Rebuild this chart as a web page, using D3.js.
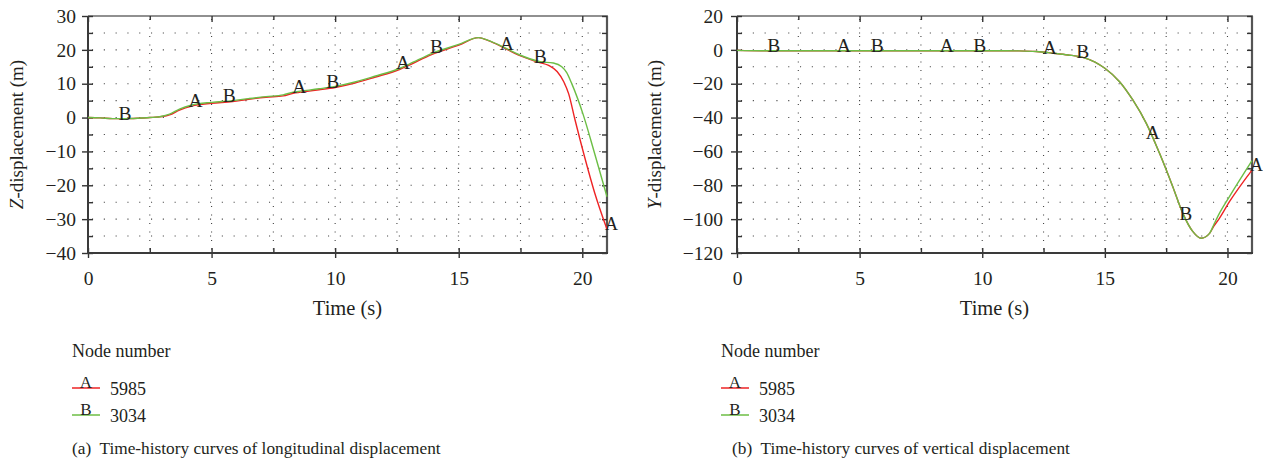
<!DOCTYPE html>
<html><head><meta charset="utf-8">
<script src="https://cdn.jsdelivr.net/npm/d3@7"></script>
<style>
body{margin:0;background:#fff}
svg{display:block}
text{font-family:"Liberation Serif","Times New Roman",serif;fill:#231f20}
</style>
</head><body>
<svg id="chart" width="1263" height="464"></svg>
<script>
// ---------- data ----------
// (a) longitudinal (Z) displacement
const zTimeA = [0,0.5,1,1.5,2,2.5,3,3.3,3.7,4.2,5,5.85,6.5,7.2,7.9,8.3,8.6,9.35,10,10.8,11.6,12.6,13,13.9,15,15.8,16.2,16.75,17.4,18.2,18.64,18.98,19.25,19.45,19.7,20.1,20.5,21];
const zNode5985 = [0,-0.1,-0.3,-0.3,-0.2,0,0.3,0.8,2.2,3.4,4.2,4.7,5.4,6.0,6.4,7.2,7.5,8.2,8.9,10.2,11.9,14.2,15.5,18.6,21.4,23.6,22.7,20.9,18.5,16.4,15.4,13.6,10.6,7.0,-0.5,-11.8,-22.2,-33];
const zTimeB = [0,0.5,1,1.5,2,2.5,3,3.3,3.7,4.2,5,5.85,6.5,7.2,7.9,8.3,8.6,9.35,10,10.8,11.6,12.6,13,13.9,15,15.8,16.2,16.75,17.4,18.29,18.83,19.17,19.37,19.57,20.04,20.5,21];
const zNode3034 = [0,-0.1,-0.3,-0.3,-0.2,0,0.4,1.0,2.5,3.7,4.5,5.0,5.6,6.2,6.7,7.5,7.8,8.5,9.2,10.5,12.2,14.5,15.8,18.9,21.6,23.6,22.8,21.0,18.7,16.5,16.1,15.0,13.3,10.1,0.8,-10.6,-23.4];

// (b) vertical (Y) displacement
const yTimeA = [0,1,2,3,4,5,6,7,8,9,10,11,11.5,12.2,12.9,13.5,14.1,14.6,15,15.6,16.14,16.69,17.23,17.77,18.18,18.59,18.93,19.27,19.45,19.67,20.08,21];
const yNode5985 = [-0.3,-0.5,-0.5,-0.5,-0.5,-0.5,-0.5,-0.5,-0.5,-0.5,-0.5,-0.5,-0.6,-1.0,-2.0,-3.0,-4.4,-7.2,-10.9,-18.8,-29.6,-43.4,-61.1,-80.8,-96.6,-107.4,-111.3,-108.4,-104,-99.5,-89.7,-71];
const yTimeB = [0,1,2,3,4,5,6,7,8,9,10,11,11.5,12.2,12.9,13.5,14.1,14.6,15,15.6,16.14,16.69,17.23,17.77,18.18,18.59,18.93,19.27,19.45,19.67,20.08,21];
const yNode3034 = [-0.3,-0.5,-0.5,-0.5,-0.5,-0.5,-0.5,-0.5,-0.5,-0.5,-0.5,-0.5,-0.6,-1.0,-2.0,-3.0,-4.4,-7.2,-10.9,-18.8,-29.6,-43.4,-61.1,-80.8,-96.6,-107.4,-111.3,-108.4,-103,-96.6,-86.7,-65.5];

// curve letter markers (times)
const markerTimesA = [4.35, 8.55, 12.75, 16.95];
const markerTimesB = [1.5, 5.72, 9.9, 14.1, 18.3];

// ticks
const xMajorTicks = [0,5,10,15,20];
const xMinorTicks = [2.5,7.5,12.5,17.5];
const zMajorTicks = [30,20,10,0,-10,-20,-30,-40];
const zMinorTicks = [25,15,5,-5,-15,-25,-35];
const yMajorTicks = [20,0,-20,-40,-60,-80,-100,-120];
const yMinorTicks = [10,-10,-30,-50,-70,-90,-110];

const legendTitle = "Node number";
const seriesNames = ["5985","3034"];
const seriesLetters = ["A","B"];
const seriesColors = ["#ee2324","#6cbe45"];

// ---------- drawing ----------
const svg = d3.select("#chart");
const FS = 19.5;

function interp(ts, vs, t){
  for(let i=1;i<ts.length;i++){
    if(t<=ts[i]){const f=(t-ts[i-1])/(ts[i]-ts[i-1]);return vs[i-1]+f*(vs[i]-vs[i-1]);}
  }
  return vs[vs.length-1];
}

function panel(o){
  const top=16, h=237;
  const g = svg.append("g");
  const x = d3.scaleLinear().domain([0,21]).range([o.x0, o.x0+o.w]);
  const y = d3.scaleLinear().domain(o.yDomain).range([top+h, top]);
  const L=o.x0, R=o.x0+o.w, T=top, B=top+h;

  // grid
  const allY = o.yMajor.concat(o.yMinor).filter(v=>v!==o.yDomain[0]&&v!==o.yDomain[1]);
  g.append("g").selectAll("line").data(allY).join("line")
    .attr("x1",L+4).attr("x2",R).attr("y1",d=>y(d)).attr("y2",d=>y(d))
    .attr("stroke","#444").attr("stroke-width",1.1).attr("stroke-dasharray","1.1,10.7");
  const allX = xMajorTicks.concat(xMinorTicks).filter(v=>v>0);
  g.append("g").selectAll("line").data(allX).join("line")
    .attr("x1",d=>x(d)).attr("x2",d=>x(d)).attr("y1",T+3).attr("y2",B)
    .attr("stroke","#444").attr("stroke-width",1.1).attr("stroke-dasharray","1.1,7.4");

  // frame
  g.append("line").attr("x1",L).attr("x2",R+1).attr("y1",T).attr("y2",T).attr("stroke","#222").attr("stroke-width",1.2);
  g.append("line").attr("x1",R).attr("x2",R).attr("y1",T).attr("y2",B).attr("stroke","#555").attr("stroke-width",2.2);

  // ticks via axes
  const tickStyle = sel => { sel.select(".domain").remove(); sel.selectAll("line").attr("stroke","#333").attr("stroke-width",1.4); sel.selectAll("text").remove(); };
  g.append("g").attr("transform",`translate(${L},0)`).call(d3.axisLeft(y).tickValues(o.yMajor).tickSize(6)).call(tickStyle);
  g.append("g").attr("transform",`translate(${L},0)`).call(d3.axisLeft(y).tickValues(o.yMajor.concat(o.yMinor)).tickSize(-5)).call(tickStyle);
  g.append("g").attr("transform",`translate(${R},0)`).call(d3.axisRight(y).tickValues(o.yMajor.concat(o.yMinor)).tickSize(-5)).call(tickStyle);
  g.append("g").attr("transform",`translate(0,${B})`).call(d3.axisBottom(x).tickValues(xMajorTicks).tickSize(5)).call(tickStyle);
  g.append("g").attr("transform",`translate(0,${B})`).call(d3.axisBottom(x).tickValues(xMajorTicks).tickSize(-5)).call(tickStyle);
  g.append("g").attr("transform",`translate(0,${B})`).call(d3.axisBottom(x).tickValues(xMinorTicks).tickSize(-5)).call(tickStyle);
  g.append("g").attr("transform",`translate(0,${T})`).call(d3.axisTop(x).tickValues(xMajorTicks).tickSize(-6)).call(tickStyle);
  g.append("g").attr("transform",`translate(0,${T})`).call(d3.axisTop(x).tickValues(xMinorTicks).tickSize(-4)).call(tickStyle);

  // left & bottom axis lines
  g.append("line").attr("x1",L).attr("x2",L).attr("y1",T).attr("y2",B+1).attr("stroke","#3a3a3a").attr("stroke-width",2);
  g.append("line").attr("x1",L-1).attr("x2",R+1).attr("y1",B).attr("y2",B).attr("stroke","#3a3a3a").attr("stroke-width",2);

  // tick labels via axes
  const lblStyle = sel => { sel.select(".domain").remove(); sel.selectAll("line").remove();
    sel.selectAll("text").attr("font-family",'"Liberation Serif",serif').attr("font-size",FS).attr("fill","#231f20"); };
  g.append("g").attr("transform",`translate(${L},0)`)
    .call(d3.axisLeft(y).tickValues(o.yMajor).tickSize(0).tickPadding(o.yPad).tickFormat(d=>d<0?"\u2212"+Math.abs(d):d))
    .call(lblStyle);
  g.append("g").attr("transform",`translate(0,${B})`)
    .call(d3.axisBottom(x).tickValues(xMajorTicks).tickSize(0).tickPadding(18).tickFormat(d3.format("d")))
    .call(lblStyle);

  // axis titles
  g.append("text").attr("x",(L+R)/2).attr("y",315).attr("text-anchor","middle").attr("font-size",20.5).text("Time (s)");
  const yl = g.append("text").attr("transform",`translate(${o.ylx},${(T+B)/2}) rotate(-90)`).attr("text-anchor","middle").attr("font-size",19);
  yl.append("tspan").attr("font-style","italic").text(o.yLetter);
  yl.append("tspan").text("-displacement (m)");

  // curves
  const line = d3.line().x(d=>x(d[0])).y(d=>y(d[1])).curve(d3.curveMonotoneX);
  o.series.forEach((s,i)=>{
    g.append("path").datum(d3.zip(s.t,s.v)).attr("d",line).attr("fill","none")
      .attr("stroke",seriesColors[i]).attr("stroke-width",1.4);
  });

  // letters on curves
  const mk = [];
  markerTimesA.forEach(t=>mk.push({t,s:0}));
  markerTimesB.forEach(t=>mk.push({t,s:1}));
  g.append("g").selectAll("text").data(mk).join("text")
    .attr("x",d=>x(d.t)).attr("y",d=>y(interp(o.series[d.s].t,o.series[d.s].v,d.t))+1)
    .attr("text-anchor","middle").attr("font-size",FS).text(d=>seriesLetters[d.s]);
  const sA=o.series[0];
  g.append("text").attr("x",x(sA.t[sA.t.length-1])-2).attr("y",y(sA.v[sA.v.length-1])+1)
    .attr("font-size",18).text(seriesLetters[0]);

  // legend
  const lx=o.legendX;
  g.append("text").attr("x",lx).attr("y",357).attr("font-size",18).text(legendTitle);
  [388,415].forEach((ly,i)=>{
    g.append("line").attr("x1",lx).attr("x2",lx+28).attr("y1",ly).attr("y2",ly).attr("stroke",seriesColors[i]).attr("stroke-width",1.5);
    g.append("text").attr("x",lx+14).attr("y",ly).attr("text-anchor","middle").attr("font-size",17).text(seriesLetters[i]);
    g.append("text").attr("x",lx+38).attr("y",ly+7).attr("font-size",18).text(seriesNames[i]);
  });
  g.append("text").attr("x",o.captionX).attr("y",454).attr("font-size",17.3).attr("xml:space","preserve").text(o.caption);
}

panel({x0:88,w:519,yDomain:[-40,30],yMajor:zMajorTicks,yMinor:zMinorTicks,yPad:12,ylx:23,yLetter:"Z",
  series:[{t:zTimeA,v:zNode5985},{t:zTimeB,v:zNode3034}],
  legendX:72,captionX:72,caption:"(a)  Time-history curves of longitudinal displacement"});
panel({x0:737,w:515,yDomain:[-120,20],yMajor:yMajorTicks,yMinor:yMinorTicks,yPad:14,ylx:661,yLetter:"Y",
  series:[{t:yTimeA,v:yNode5985},{t:yTimeB,v:yNode3034}],
  legendX:721,captionX:732,caption:"(b)  Time-history curves of vertical displacement"});
</script>
</body></html>
